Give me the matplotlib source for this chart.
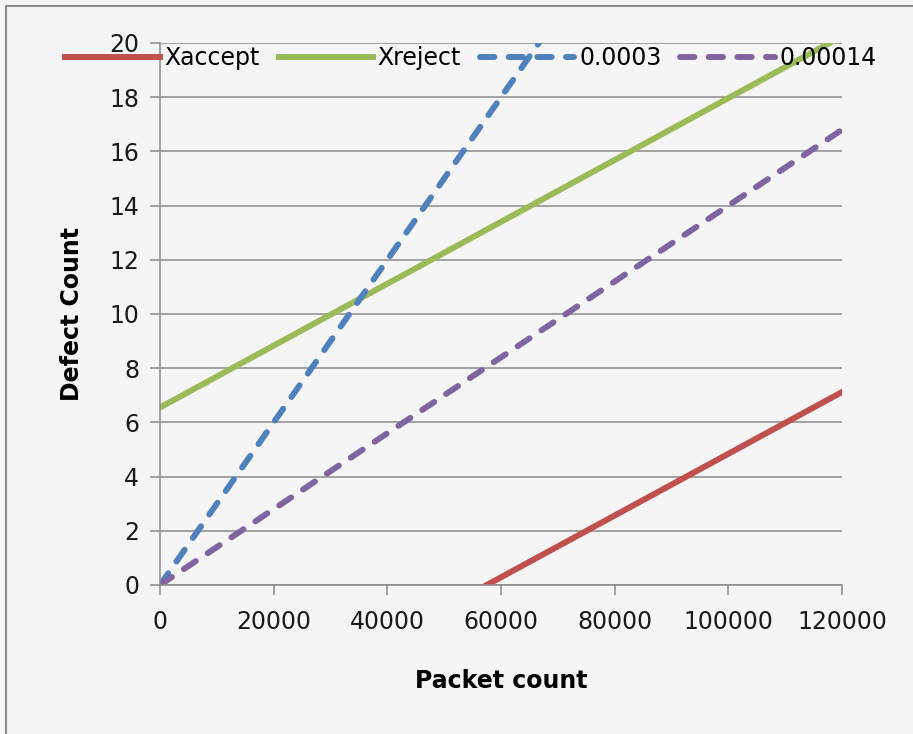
import matplotlib
matplotlib.use('Agg')
import matplotlib.pyplot as plt
from matplotlib.lines import Line2D

# data
packets = [0, 120000]
xaccept = [-6.55, 7.12]
xreject = [6.55, 20.25]
rate_0003 = [0, 36.0]
rate_00014 = [0, 16.8]

x_ticks = [0, 20000, 40000, 60000, 80000, 100000, 120000]
y_ticks = [0, 2, 4, 6, 8, 10, 12, 14, 16, 18, 20]

bg = '#f5f5f5'
grid_col = '#8a8a8a'

plt.rcParams['font.family'] = ['DejaVu Sans']

fig = plt.figure(figsize=(9.13, 7.34), dpi=100, facecolor=bg)
ax = fig.add_axes([160 / 913, 1 - 585 / 734, 682 / 913, 542 / 734], facecolor=bg)

lw = 4.3
ax.plot(packets, xaccept, color='#c0504d', lw=lw, label='Xaccept')
ax.plot(packets, xreject, color='#9bbb59', lw=lw, label='Xreject')
ax.plot(packets, rate_0003, color='#4f81bd', lw=lw, dashes=(2.4, 2.4),
        dash_capstyle='round', label='0.0003')
ax.plot(packets, rate_00014, color='#8064a2', lw=lw, dashes=(2.4, 2.4),
        dash_capstyle='round', label='0.00014')

ax.set_xlim(0, 120000)
ax.set_ylim(0, 20)
ax.set_xticks(x_ticks)
ax.set_yticks(y_ticks)
ax.set_xticklabels([str(t) for t in x_ticks])
ax.grid(axis='y', color=grid_col, lw=1.1)
ax.set_axisbelow(True)
for s in ['top', 'right']:
    ax.spines[s].set_visible(False)
for s in ['left', 'bottom']:
    ax.spines[s].set_color(grid_col)
    ax.spines[s].set_linewidth(1.1)
ax.tick_params(axis='both', length=7, width=1.1, color=grid_col, labelsize=17, labelcolor='#1a1a1a')
ax.tick_params(axis='x', pad=11)
ax.tick_params(axis='y', pad=8)

ax.set_xlabel('Packet count', fontsize=17, fontweight='bold', labelpad=25)
ax.set_ylabel('Defect Count', fontsize=17, fontweight='bold', labelpad=18)

ax.legend(loc='center', bbox_to_anchor=(471 / 913, 1 - 58 / 734), bbox_transform=fig.transFigure,
          ncol=4, frameon=False, fontsize=17, handlelength=4.0, handletextpad=0.2,
          columnspacing=0.8, borderpad=0)

# outer frame (left and top edges)
fig.add_artist(Line2D([6 / 913, 6 / 913], [0, 1 - 6 / 734], color='#8a8a8a', lw=1.5))
fig.add_artist(Line2D([6 / 913, 1], [1 - 6 / 734, 1 - 6 / 734], color='#8a8a8a', lw=1.5))

fig.savefig('out.png', dpi=100, facecolor=bg)
